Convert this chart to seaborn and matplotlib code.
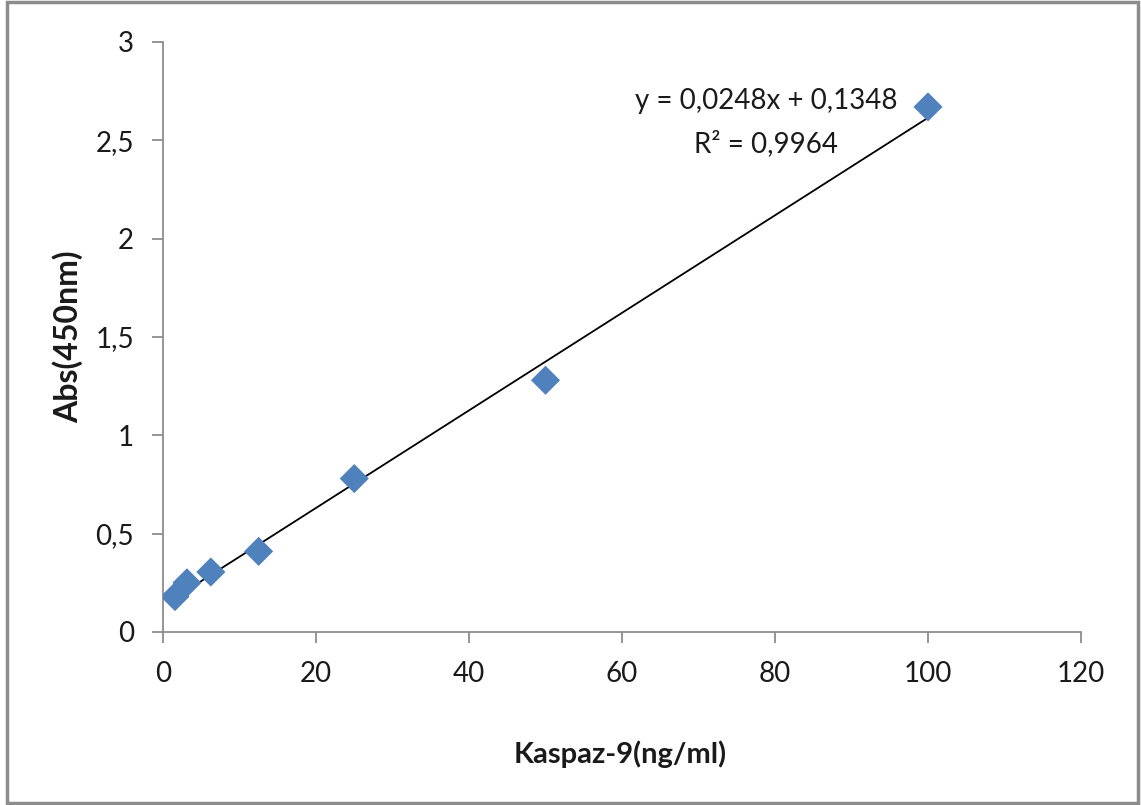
import numpy as np
import pandas as pd
import seaborn as sns
import matplotlib.pyplot as plt
from matplotlib.patches import Rectangle
from matplotlib.ticker import FuncFormatter

# standard curve data
conc = [1.5625, 3.125, 6.25, 12.5, 25, 50, 100]
absorb = [0.18, 0.25, 0.305, 0.41, 0.78, 1.28, 2.67]
slope = 0.0248
intercept = 0.1348
eq_text = "y = 0,0248x + 0,1348"
r2_text = "R² = 0,9964"
x_ticks = [0, 20, 40, 60, 80, 100, 120]
y_ticks = [0, 0.5, 1, 1.5, 2, 2.5, 3]

df = pd.DataFrame({"conc": conc, "abs": absorb})
line_x = [min(conc), max(conc)]
trend = pd.DataFrame({"x": line_x, "y": [slope * v + intercept for v in line_x]})

sns.set_style("ticks")
plt.rcParams['font.family'] = ['Lato', 'DejaVu Sans']

fig = plt.figure(figsize=(11.41, 8.05), dpi=100)
ax = fig.add_axes([163/1141, 1 - 632/805, 918/1141, 590/805])

sns.scatterplot(data=df, x="conc", y="abs", marker="D", s=220, color="#4F81BD",
                edgecolor="none", ax=ax, zorder=3)
sns.lineplot(data=trend, x="x", y="y", color="black", linewidth=1.3, ax=ax, zorder=2)

ax.set_xlim(0, 120)
ax.set_ylim(0, 3)
ax.set_xticks(x_ticks)
ax.set_yticks(y_ticks)
ax.yaxis.set_major_formatter(FuncFormatter(lambda v, p: ("%g" % v).replace(".", ",")))

for side in ["top", "right"]:
    ax.spines[side].set_visible(False)
for side in ["left", "bottom"]:
    ax.spines[side].set_color("#8c8c8c")
    ax.spines[side].set_linewidth(1.3)
ax.tick_params(axis="both", direction="out", length=8, width=1.3, color="#8c8c8c",
               labelsize=20, labelcolor="#1a1a1a")
ax.tick_params(axis="y", pad=13)
ax.tick_params(axis="x", pad=13)

ax.set_xlabel("Kaspaz-9(ng/ml)", fontsize=21, fontweight="bold", color="#1a1a1a")
ax.set_ylabel("Abs(450nm)", fontsize=23, fontweight="bold", color="#1a1a1a")
ax.xaxis.set_label_coords(0.498, -0.183)
ax.yaxis.set_label_coords(-0.087, 0.5)

ax.text(78.8, 2.70, eq_text, ha="center", va="center", fontsize=20, color="#1a1a1a")
ax.text(78.8, 2.486, r2_text, ha="center", va="center", fontsize=20, color="#1a1a1a")

fig.patches.append(Rectangle((7/1141, 2/805), 1131/1141, 801/805, transform=fig.transFigure,
                             fill=False, edgecolor="#8c8c8c", linewidth=2.5))

fig.savefig("out.png", dpi=100)
